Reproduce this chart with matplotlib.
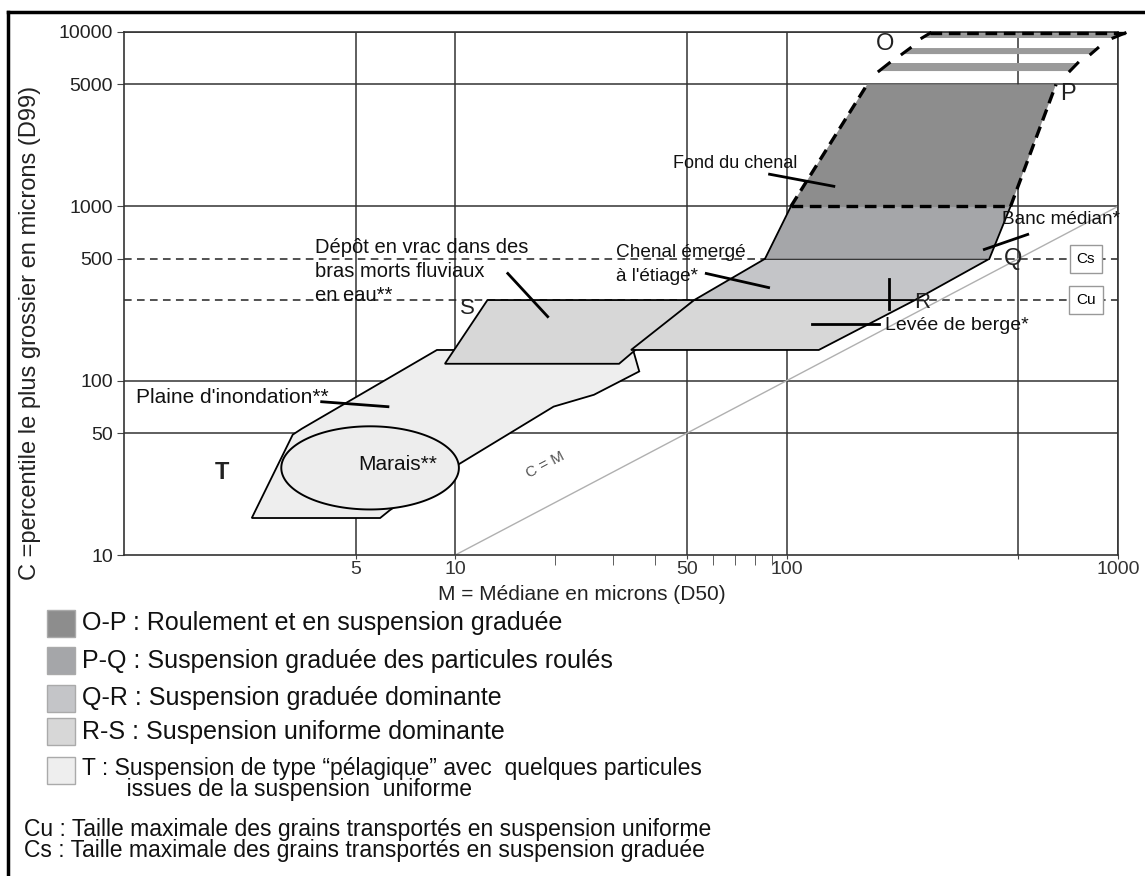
import numpy as np
import matplotlib
matplotlib.use("Agg")
import matplotlib.pyplot as plt
from matplotlib.patches import Rectangle
from matplotlib.lines import Line2D
from matplotlib.ticker import NullFormatter

plt.rcParams['font.family'] = ['Liberation Sans', 'DejaVu Sans']

W, H = 1145, 876

# zones du diagramme CM : coins (M, C) en microns
zone_op = [(103, 1000), (175, 5000), (650, 5000), (474, 1000)]
zone_pq = [(86, 500), (103, 1000), (474, 1000), (409, 500)]
zone_qr = [(52.6, 290), (86, 500), (409, 500), (244, 290)]
zone_rs_left = [(9.3, 125), (12.5, 290), (52.6, 290), (31.2, 125)]
zone_rs_right = [(33.9, 150), (52.6, 290), (244, 290), (125, 150)]
zone_t = [(2.43, 16.3), (3.23, 49), (3.44, 53), (8.8, 150), (34.4, 150), (35.9, 113),
          (26.2, 83), (19.8, 71), (10.2, 33), (6.35, 18.1), (5.93, 16.3)]
stripes_op = [
    [(256, 9240), (271, 9860), (1050, 9860), (966, 9240)],
    [(223, 7470), (236, 8090), (869, 8090), (828, 7470)],
    [(190, 5970), (204, 6640), (756, 6640), (716, 5970)],
]
# ellipse "Marais" : centre (M, C) et demi-axes en décades
marais_centre = (5.53, 31.6)
marais_half = (0.268, 0.2385)

cs, cu = 500, 290

x_major = [5, 10, 50, 100, 500, 1000]
x_labels = ['5', '10', '50', '100', '', '1000']
x_minor = [20, 30, 40, 60, 70, 80, 90]
y_grid = [50, 100, 1000, 5000, 10000]
y_ticks = [10, 50, 100, 500, 1000, 5000, 10000]
y_labels = ['10', '50', '100', '500', '1000', '5000', '10000']

# une ligne de texte par entrée
note_texts = ["Fond du chenal", "Banc médian*", "Chenal émergé", "à l'étiage*",
              "Levée de berge*", "Dépôt en vrac dans des", "bras morts fluviaux",
              "en eau**", "Plaine d'inondation**", "Marais**"]
note_lines = [((88.8, 1528), (138.8, 1303)), ((395, 566), (534, 690)),
              ((57.2, 412), (88.2, 342)), ((119, 210), (190, 210)),
              ((14.4, 412), (19.0, 233)), ((3.95, 75.7), (6.26, 70.9))]
berge_tick = [(204, 385), (204, 256)]

letters = ["O", "P", "Q", "R", "S", "T"]

legend_labels = ["O-P : Roulement et en suspension graduée",
                 "P-Q : Suspension graduée des particules roulés",
                 "Q-R : Suspension graduée dominante",
                 "R-S : Suspension uniforme dominante",
                 "T : Suspension de type “pélagique” avec  quelques particules\n"
                 "       issues de la suspension  uniforme"]
zone_colors = ['#8d8d8d', '#a5a6a9', '#c4c5c8', '#d7d7d7', '#eeeeee']
notes_bas = ("Cu : Taille maximale des grains transportés en suspension uniforme\n"
             "Cs : Taille maximale des grains transportés en suspension graduée")

fig = plt.figure(figsize=(W / 100, H / 100), dpi=100)
ax = fig.add_axes([124 / W, 1 - 555 / H, (1118 - 124) / W, (555 - 32) / H])
ax.set_xscale('log')
ax.set_yscale('log')
ax.set_xlim(1, 1000)
ax.set_ylim(10, 10000)

for v in x_major:
    ax.axvline(v, color='#333333', lw=1.1, zorder=1)
for v in y_grid:
    ax.axhline(v, color='#333333', lw=1.1, zorder=1)
for v in (cs, cu):
    ax.axhline(v, color='#222222', lw=1.1, ls=(0, (5, 3.5)), zorder=1.5)
ax.plot([10, 1000], [10, 1000], color='#b0b0b0', lw=1, zorder=1.6)
ax.text(18.7, 33, "C = M", rotation=27.8, fontsize=11, color='#555555',
        ha='center', va='center')

def fill(pts, color, z, **kw):
    xs, ys = zip(*pts)
    ax.fill(xs, ys, facecolor=color, zorder=z, **kw)

fill(zone_t, zone_colors[4], 2, edgecolor='black', lw=1.3)
t = np.linspace(0, 2 * np.pi, 300)
em = 10 ** (np.log10(marais_centre[0]) + marais_half[0] * np.cos(t))
ec = 10 ** (np.log10(marais_centre[1]) + marais_half[1] * np.sin(t))
ax.fill(em, ec, facecolor='#ededed', edgecolor='black', lw=1.4, zorder=3)

fill(zone_rs_left, zone_colors[3], 4, edgecolor='black', lw=1.3)
fill(zone_rs_right, zone_colors[3], 4, edgecolor='black', lw=1.3)
fill(zone_qr, zone_colors[2], 4, edgecolor='black', lw=1.3)
fill(zone_pq, zone_colors[1], 4, edgecolor='none')
fill(zone_op, zone_colors[0], 4, edgecolor='none')

dash = (0, (3.5, 2))
for i, s in enumerate(stripes_op):
    xs, ys = zip(*s)
    ax.fill(xs, ys, facecolor='#9a9a9a', edgecolor='none', zorder=4, clip_on=False)
    ax.plot(xs[:2], ys[:2], color='black', lw=2.2, zorder=5, clip_on=False)
    ax.plot(xs[2:], ys[2:], color='black', lw=2.2, zorder=5, clip_on=False)
    if i == 0:
        ax.plot(xs[1:3], ys[1:3], color='black', lw=2.4, ls=dash, zorder=5, clip_on=False)

# bords de P-Q (traits pleins) et de O-P (tirets)
for a, b in [(zone_pq[0], zone_pq[1]), (zone_pq[3], zone_pq[2])]:
    ax.plot([a[0], b[0]], [a[1], b[1]], color='black', lw=1.3, zorder=5)
for a, b in [(zone_op[0], zone_op[1]), (zone_op[3], zone_op[2]), (zone_op[0], zone_op[3])]:
    ax.plot([a[0], b[0]], [a[1], b[1]], color='black', lw=2.4, ls=dash, zorder=5)

# traits de rappel et textes
for p0, p1 in note_lines:
    ax.plot([p0[0], p1[0]], [p0[1], p1[1]], color='black', lw=2, zorder=6)
ax.plot(*zip(*berge_tick), color='black', lw=2, zorder=6)

note_pos = [(45.5, 1766), (448, 841), (30.6, 547), (30.6, 394), (198, 206),
            (3.78, 577), (3.78, 421), (3.78, 310), (1.09, 79.8), (5.08, 32.9)]
note_size = [13, 13.7, 13.7, 13.7, 14, 14.5, 14.5, 14.5, 15, 15]
for txt, pos, fs in zip(note_texts, note_pos, note_size):
    ax.text(pos[0], pos[1], txt, fontsize=fs, ha='left', va='center',
            color='#111111', zorder=7)

letter_pos = [(198, 8532), (705, 4406), (481, 500), (256, 279), (10.9, 259), (1.97, 29.6)]
for lab, pos in zip(letters, letter_pos):
    ax.text(pos[0], pos[1], lab, fontsize=16 if lab in 'RS' else 17, ha='center',
            va='center', zorder=7, color='#222222',
            fontweight='bold' if lab == 'T' else 'normal', clip_on=False)

for lab, v in (("Cs", cs), ("Cu", cu)):
    ax.text(800, v, lab, fontsize=11, ha='center', va='center', zorder=7,
            bbox=dict(boxstyle='square,pad=0.45', fc='white', ec='#999999', lw=1))

ax.set_xticks(x_major)
ax.set_xticklabels(x_labels, fontsize=14, color='#333333')
ax.set_xticks(x_minor, minor=True)
ax.xaxis.set_minor_formatter(NullFormatter())
ax.set_yticks(y_ticks)
ax.set_yticklabels(y_labels, fontsize=14, color='#222222')
ax.set_yticks([], minor=True)
ax.tick_params(axis='x', which='major', direction='out', length=3, color='#444444', pad=1)
ax.tick_params(axis='x', which='minor', direction='out', length=7, color='#444444')
ax.tick_params(axis='y', which='major', direction='out', length=5, color='#444444', pad=3)
for sp in ax.spines.values():
    sp.set_color('#333333')
    sp.set_linewidth(1.2)
fig.text(582 / W, 1 - 595 / H, "M = Médiane en microns (D50)", fontsize=15,
         ha='center', va='center', color='#222222')
fig.text(30 / W, 1 - 333 / H, "C =percentile le plus grossier en microns (D99)",
         rotation=90, ha='center', va='center', fontsize=17, color='#222222')

# cadre
fig.add_artist(Line2D([8 / W, 8 / W], [0, 1 - 12 / H], color='black', lw=2.5))
fig.add_artist(Line2D([8 / W, 1], [1 - 12 / H, 1 - 12 / H], color='black', lw=2.5))

# légende
box_top = [610, 647, 685, 718, 757]
text_y = [623, 661, 698, 732, 779]
for txt, col, yb, yt in zip(legend_labels, zone_colors, box_top, text_y):
    fig.add_artist(Rectangle((47 / W, 1 - (yb + 27) / H), 28 / W, 27 / H,
                             transform=fig.transFigure, fc=col, ec='#aaaaaa', lw=1))
    two = '\n' in txt
    fig.text(82 / W, 1 - yt / H, txt, fontsize=16.5 if two else 18,
             va='center', ha='left', color='#111111', linespacing=0.88)
fig.text(24 / W, 1 - 840 / H, notes_bas, fontsize=16.5, va='center', ha='left',
         color='#111111', linespacing=0.92)

fig.savefig("out.png", dpi=100)
